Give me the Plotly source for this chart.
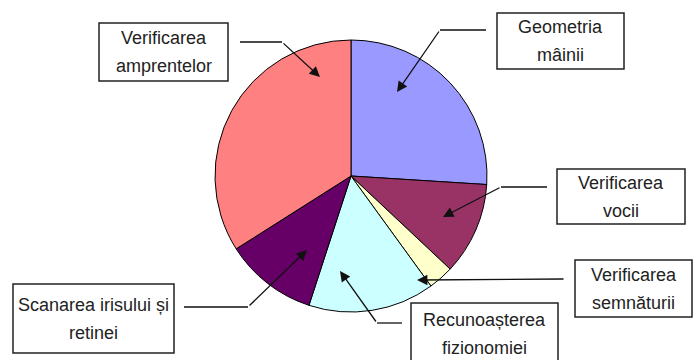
import plotly.graph_objects as go

# Share of each biometric identification method (%)
methods = [
    "Geometria mâinii",
    "Verificarea vocii",
    "Verificarea semnăturii",
    "Recunoașterea fizionomiei",
    "Scanarea irisului și retinei",
    "Verificarea amprentelor",
]
shares = [26, 11, 3, 15, 11, 34]
colors = ["#9999FF", "#993366", "#FFFFCC", "#CCFFFF", "#660066", "#FF8080"]

# Callout label text, one list entry per line
label_lines = [
    ["Geometria", "mâinii"],
    ["Verificarea", "vocii"],
    ["Verificarea", "semnăturii"],
    ["Recunoașterea", "fizionomiei"],
    ["Scanarea irisului și", "retinei"],
    ["Verificarea", "amprentelor"],
]

W, H = 696, 360
cx, cy, r = 351, 176, 136

# Callout boxes (x0, x1, y0, y1) in pixel space
boxes = [
    (497, 624, 13, 69),
    (557, 685, 169, 224),
    (575, 692, 260, 317),
    (411, 558, 303, 364),
    (13, 174, 284, 353),
    (99, 228, 23, 81),
]
# Leader lines: polyline points, last point is the arrow tip
leaders = [
    [(486, 30), (440, 30), (397, 92)],
    [(547, 187), (501, 187), (443, 217)],
    [(565, 279), (417, 280)],
    [(402, 323), (377, 323), (340, 271)],
    [(184, 307), (248, 307), (307, 250)],
    [(240, 42), (282, 42), (320, 77)],
]

fig = go.Figure()
fig.add_trace(go.Pie(
    labels=methods,
    values=shares,
    sort=False,
    direction="clockwise",
    rotation=0,
    marker=dict(colors=colors, line=dict(color="#000000", width=1)),
    textinfo="none",
    hoverinfo="label+percent",
    showlegend=False,
    domain=dict(x=[(cx - r) / W, (cx + r) / W],
                y=[(H - cy - r) / H, (H - cy + r) / H]),
))

shapes = []
annotations = []
font = dict(family="Liberation Sans, Arial", size=18, color="#222222")
line_gap = 28

for (x0, x1, y0, y1), lines in zip(boxes, label_lines):
    shapes.append(dict(type="rect", xref="x", yref="y", x0=x0, x1=x1, y0=y0, y1=y1,
                       line=dict(color="#222222", width=1.5), fillcolor="white", layer="above"))
    xm = (x0 + x1) / 2
    ym = (y0 + y1) / 2
    n = len(lines)
    for i, txt in enumerate(lines):
        annotations.append(dict(x=xm, y=ym + (i - (n - 1) / 2) * line_gap, xref="x", yref="y",
                                text=txt, showarrow=False, font=font,
                                xanchor="center", yanchor="middle"))

for pts in leaders:
    for (xa, ya), (xb, yb) in zip(pts[:-2], pts[1:-1]):
        shapes.append(dict(type="line", xref="x", yref="y", x0=xa, y0=ya, x1=xb, y1=yb,
                           line=dict(color="#111111", width=1.3), layer="above"))
    (sx, sy), (tx, ty) = pts[-2], pts[-1]
    annotations.append(dict(x=tx, y=ty, xref="x", yref="y", ax=sx, ay=sy,
                            axref="x", ayref="y", text="", showarrow=True,
                            arrowhead=2, arrowsize=1.6, arrowwidth=1.3,
                            arrowcolor="#111111", standoff=0, startstandoff=0))

fig.update_layout(
    width=W, height=H,
    margin=dict(l=0, r=0, t=0, b=0),
    paper_bgcolor="white", plot_bgcolor="rgba(0,0,0,0)",
    xaxis=dict(range=[0, W], visible=False, fixedrange=True),
    yaxis=dict(range=[H, 0], visible=False, fixedrange=True),
    shapes=shapes, annotations=annotations,
)

fig.write_html("out.html")
